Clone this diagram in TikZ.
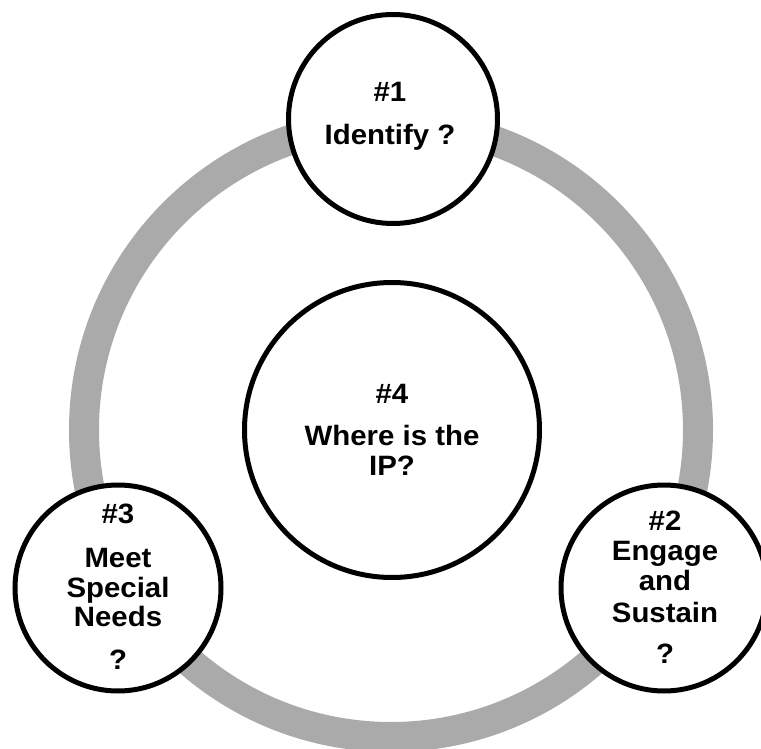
\documentclass[tikz,border=0pt]{standalone}
\usepackage{fontspec}
\setmainfont{Liberation Sans}
\newfontfamily\lblfont[FakeStretch=1.05]{Liberation Sans}
\definecolor{ringgray}{HTML}{AAAAAA}
\begin{document}
\begin{tikzpicture}[x=1pt,y=-1pt,
  bubble/.style={circle, draw=black, line width=5pt, fill=white, inner sep=0pt},
  lbl/.style={anchor=base, inner sep=0pt, font=\lblfont\fontsize{28}{30}\selectfont\bfseries}]
\useasboundingbox (0,0) rectangle (761,749);
\fill[white] (0,0) rectangle (761,749);
\coordinate (ringc) at (391,430);
\draw[ringgray, line width=30pt] (ringc) circle[radius=307pt];
\node[bubble, minimum size=295pt] (c4) at (392,430) {};
\node[bubble, minimum size=209pt] (c1) at (393,119) {};
\node[bubble, minimum size=206pt] (c3) at (118,588) {};
\node[bubble, minimum size=206pt] (c2) at (664,588) {};
% #1
\node[lbl] (t1a) at (390,102) {\#1};
\node[lbl] (t1b) at (390,145) {Identify ?};
% #4
\node[lbl] (t4a) at (392,403) {\#4};
\node[lbl] (t4b) at (392,445) {Where is the};
\node[lbl] (t4c) at (392,475) {IP?};
% #3
\node[lbl] (t3a) at (118,523) {\#3};
\node[lbl] (t3b) at (118,567) {Meet};
\node[lbl] (t3c) at (118,597) {Special};
\node[lbl] (t3d) at (118,626) {Needs};
\node[lbl] (t3e) at (118,669) {?};
% #2
\node[lbl] (t2a) at (665,530) {\#2};
\node[lbl] (t2b) at (665,560) {Engage};
\node[lbl] (t2c) at (665,590) {and};
\node[lbl] (t2d) at (665,622) {Sustain};
\node[lbl] (t2e) at (665,663) {?};
\end{tikzpicture}
\end{document}
